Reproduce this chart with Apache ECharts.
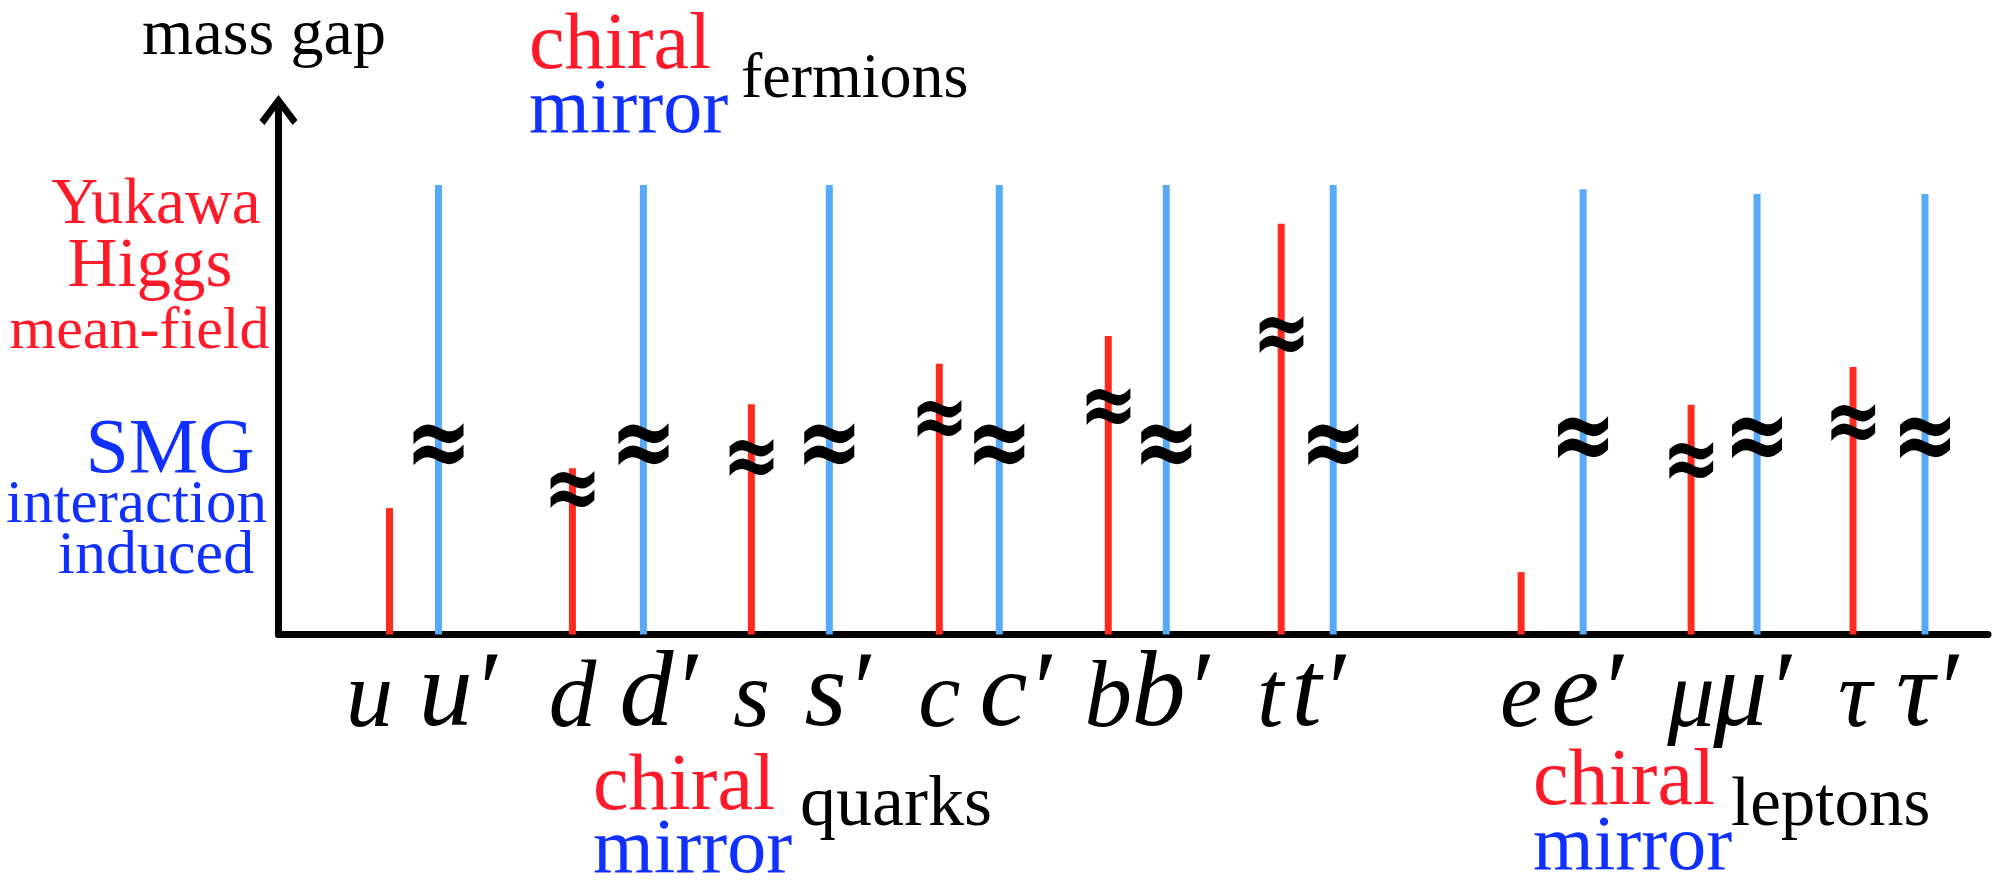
<!DOCTYPE html>
<html><head><meta charset="utf-8">
<script src="https://cdn.jsdelivr.net/npm/echarts/dist/echarts.min.js"></script>
<style>
html,body{margin:0;padding:0;background:#fff}
#c{width:1994px;height:886px}
</style>
</head><body>
<div id="c"></div>
<script>
// ---- data ----
const chiralNames = ['u', 'd', 's', 'c', 'b', 't', 'e', 'μ', 'τ'];
const mirrorNames = ['u′', 'd′', 's′', 'c′', 'b′', 't′', 'e′', 'μ′', 'τ′'];
const chiralPos = [11.1, 29.4, 47.3, 66.1, 83.0, 100.3, 124.3, 141.3, 157.5];
const mirrorPos = [16.0, 36.5, 55.1, 72.1, 88.8, 105.5, 130.5, 147.9, 164.7];
const chiralGap = [24.1, 31.7, 43.9, 51.6, 56.9, 78.3, 11.9, 43.8, 51.0];
const mirrorGap = [85.7, 85.7, 85.7, 85.7, 85.7, 85.7, 84.9, 84.0, 84.0];
const chiralBreak = [null, 26.8, 32.9, 40.2, 42.6, 56.2, null, 32.3, 39.5];
const mirrorBreak = [35.2, 35.2, 35.2, 35.2, 35.2, 35.2, 36.5, 36.5, 36.5];

// ---- styles / layout ----
const RED_BAR = '#FF2B1F', BLUE_BAR = '#57AAF8';
const RED_TXT = '#FF1A2A', BLUE_TXT = '#1030FF';
const SERIF = 'Liberation Serif';
const MID = 0.305; // em offset from baseline to canvas 'middle'
const chiralLabelDx = [-20, 0, 0, 0, 0, -11, 0, 0, 2];   // px nudges of the tick letters
const mirrorLabelDx = [19, 15, 8, 16, 4, -15, 4, -5, 2];

const chart = echarts.init(document.getElementById('c'));

function barRender(color) {
  return function (params, api) {
    const x = api.value(0), h = api.value(1);
    const p0 = api.coord([x, 0]), p1 = api.coord([x, h]);
    const w = 7;
    return {type: 'rect', shape: {x: p0[0] - w / 2, y: p1[1], width: w, height: p0[1] - p1[1]},
      style: {fill: color}};
  };
}
function breakRender(fs, sy) {
  return function (params, api) {
    const x = api.value(0), y = api.value(1);
    if (y == null || isNaN(y)) return null;
    const p = api.coord([x, y]);
    return {type: 'text', x: p[0], y: p[1], scaleY: sy, z2: 10,
      style: {text: '≈', fontSize: fs, fontFamily: 'DejaVu Sans', fontWeight: 'bold',
        fill: '#000', align: 'center', verticalAlign: 'middle'}};
  };
}
function labelRender(names, fs, dx) {
  return function (params, api) {
    const x = api.value(0);
    const p = api.coord([x, 0]);
    const base = p[1] + 95.5;
    return {type: 'text', x: p[0] + dx[params.dataIndex], y: base - MID * fs,
      style: {text: names[params.dataIndex], fontSize: fs, fontFamily: SERIF, fontStyle: 'italic',
        fill: '#000', align: 'center', verticalAlign: 'middle'}};
  };
}
function txt(text, x, baseline, fs, color, align) {
  return {type: 'text', x: x, y: baseline - MID * fs,
    style: {text: text, fontSize: fs, fontFamily: SERIF, fill: color, align: align || 'left',
      verticalAlign: 'middle'}};
}

const option = {
  animation: false,
  textStyle: {fontFamily: SERIF},
  grid: {left: 278.5, right: 6, top: 110, bottom: 251.5},
  xAxis: {type: 'value', min: 0, max: 171,
    axisLine: {show: true, onZero: false, lineStyle: {color: '#000', width: 7}},
    axisTick: {show: false}, axisLabel: {show: false}, splitLine: {show: false}},
  yAxis: {type: 'value', min: 0, max: 100,
    axisLine: {show: true, lineStyle: {color: '#000', width: 7},
      symbol: ['none', 'path://M19 0 L38 25 L33 30 L19 11 L5 30 L0 25 Z'], symbolSize: [38, 30]},
    axisTick: {show: false}, axisLabel: {show: false}, splitLine: {show: false}},
  series: [
    {type: 'custom', name: 'chiral', renderItem: barRender(RED_BAR), z: 3,
      data: chiralPos.map((x, i) => [x, chiralGap[i]])},
    {type: 'custom', name: 'mirror', renderItem: barRender(BLUE_BAR), z: 3,
      data: mirrorPos.map((x, i) => [x, mirrorGap[i]])},
    {type: 'custom', name: 'chiralBreak', renderItem: breakRender(70, 1.3), z: 5,
      data: chiralPos.map((x, i) => [x, chiralBreak[i] == null ? NaN : chiralBreak[i]])},
    {type: 'custom', name: 'mirrorBreak', renderItem: breakRender(80, 1.3), z: 5,
      data: mirrorPos.map((x, i) => [x, mirrorBreak[i]])},
    {type: 'custom', name: 'chiralLabel', renderItem: labelRender(chiralNames, 95, chiralLabelDx), z: 5,
      data: chiralPos.map(x => [x, 0])},
    {type: 'custom', name: 'mirrorLabel', renderItem: labelRender(mirrorNames, 108, mirrorLabelDx), z: 5,
      data: mirrorPos.map(x => [x, 0])}
  ],
  graphic: [
    txt('mass gap', 264, 57, 66, '#000', 'center'),
    txt('chiral', 529, 71, 80, RED_TXT),
    txt('mirror', 529, 135, 78, BLUE_TXT),
    txt('fermions', 741, 100, 64, '#000'),
    txt('Yukawa', 156, 226, 65, RED_TXT, 'center'),
    txt('Higgs', 150, 289, 69, RED_TXT, 'center'),
    txt('mean-field', 139.5, 351, 60, RED_TXT, 'center'),
    txt('SMG', 170, 475, 78, BLUE_TXT, 'center'),
    txt('interaction', 136.5, 525, 61, BLUE_TXT, 'center'),
    txt('induced', 156, 576, 62, BLUE_TXT, 'center'),
    txt('chiral', 593, 812, 80, RED_TXT),
    txt('quarks', 800, 828, 72, '#000'),
    txt('mirror', 593, 875, 78, BLUE_TXT),
    txt('chiral', 1533, 807, 80, RED_TXT),
    txt('leptons', 1731, 828, 69, '#000'),
    txt('mirror', 1533, 872, 78, BLUE_TXT)
  ]
};
chart.setOption(option);
</script>
</body></html>
